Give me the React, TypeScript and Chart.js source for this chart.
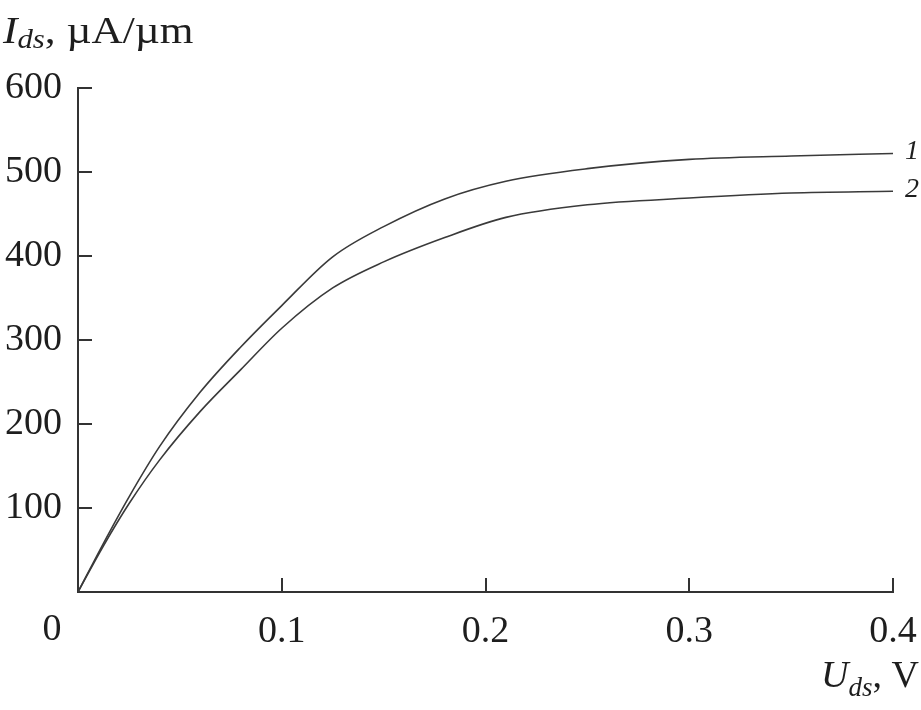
import React, { useEffect, useRef } from 'react';
import { Chart, registerables } from 'chart.js';

Chart.register(...registerables);

// Data
const voltages = [0, 0.0125, 0.025, 0.04, 0.06, 0.08, 0.1, 0.125, 0.15, 0.18, 0.21, 0.25, 0.3, 0.35, 0.4];
const current1 = [0, 58, 113, 173, 238, 292, 341, 399, 435, 468, 489, 504, 515, 519, 522];
const current2 = [0, 55, 105, 157, 215, 265, 314, 362, 393, 422, 446, 461, 469, 475, 477];
const seriesLabels = ['1', '2'];
const xTickValues = [0, 0.1, 0.2, 0.3, 0.4];
const yTickValues = [0, 100, 200, 300, 400, 500, 600];

const SERIF = '"Liberation Serif", "Times New Roman", serif';
const INK = '#1e1e1e';
const LINE = '#3a3a3a';

type Piece = { t: string; font: string; dy: number };

function drawRich(ctx: CanvasRenderingContext2D, pieces: Piece[], x: number, y: number, align: 'left' | 'right', sx = 1) {
  ctx.save();
  ctx.textAlign = 'left';
  ctx.textBaseline = 'alphabetic';
  let total = 0;
  for (const p of pieces) {
    ctx.font = p.font;
    total += ctx.measureText(p.t).width;
  }
  total *= sx;
  const start = align === 'left' ? x : x - total;
  ctx.translate(start, y);
  ctx.scale(sx, 1);
  let cx = 0;
  for (const p of pieces) {
    ctx.font = p.font;
    ctx.fillText(p.t, cx, p.dy);
    cx += ctx.measureText(p.t).width;
  }
  ctx.restore();
}

const decorPlugin = {
  id: 'decor',
  afterDraw(chart: any) {
    const ctx: CanvasRenderingContext2D = chart.ctx;
    const xs = chart.scales.x;
    const ys = chart.scales.y;
    const { left, bottom } = chart.chartArea;
    ctx.save();
    // inward tick marks
    ctx.strokeStyle = '#333';
    ctx.lineWidth = 2;
    ctx.beginPath();
    for (const v of yTickValues) {
      if (v === 0) continue;
      const py = Math.round(ys.getPixelForValue(v));
      ctx.moveTo(left, py);
      ctx.lineTo(left + 14, py);
    }
    for (const v of xTickValues) {
      if (v === 0) continue;
      const px = Math.round(xs.getPixelForValue(v));
      ctx.moveTo(px, bottom);
      ctx.lineTo(px, bottom - 14);
    }
    ctx.stroke();

    ctx.fillStyle = INK;
    // shared origin label
    ctx.font = `38px ${SERIF}`;
    ctx.textAlign = 'center';
    ctx.textBaseline = 'alphabetic';
    ctx.fillText('0', left - 26, bottom + 48);

    // curve labels
    ctx.font = `italic 28px ${SERIF}`;
    ctx.textAlign = 'left';
    ctx.textBaseline = 'middle';
    chart.data.datasets.forEach((_: any, i: number) => {
      const meta = chart.getDatasetMeta(i);
      const last = meta.data[meta.data.length - 1];
      ctx.fillText(seriesLabels[i], last.x + 12, last.y - 2);
    });

    // axis titles
    drawRich(ctx, [
      { t: 'I', font: `italic 38px ${SERIF}`, dy: 0 },
      { t: 'ds', font: `italic 27px ${SERIF}`, dy: 5 },
      { t: ', \u00B5A/\u00B5m', font: `38px ${SERIF}`, dy: 0 },
    ], 3, 43, 'left', 1.14);
    drawRich(ctx, [
      { t: 'U', font: `italic 38px ${SERIF}`, dy: 0 },
      { t: 'ds', font: `italic 27px ${SERIF}`, dy: 9 },
      { t: ', V', font: `38px ${SERIF}`, dy: 0 },
    ], 919, 687, 'right');
    ctx.restore();
  },
};

export default function App() {
  const ref = useRef<HTMLCanvasElement | null>(null);
  useEffect(() => {
    if (!ref.current) return;
    const mk = (vals: number[]) => voltages.map((x, i) => ({ x, y: vals[i] }));
    const chart = new Chart(ref.current, {
      type: 'line',
      data: {
        datasets: [
          { label: seriesLabels[0], data: mk(current1), borderColor: LINE, borderWidth: 1.6, pointRadius: 0, cubicInterpolationMode: 'monotone', fill: false },
          { label: seriesLabels[1], data: mk(current2), borderColor: LINE, borderWidth: 1.6, pointRadius: 0, cubicInterpolationMode: 'monotone', fill: false },
        ],
      },
      options: {
        responsive: false,
        animation: false,
        devicePixelRatio: 1,
        layout: { padding: { left: 0, right: 28, top: 88, bottom: 0 } },
        plugins: { legend: { display: false }, tooltip: { enabled: false } },
        scales: {
          x: {
            type: 'linear',
            min: 0,
            max: 0.4,
            afterFit: (s: any) => { s.height = 118; s.paddingLeft = 0; s.paddingRight = 0; },
            afterBuildTicks: (s: any) => { s.ticks = xTickValues.map((v) => ({ value: v })); },
            grid: { display: false, drawTicks: false },
            border: { display: true, color: '#333', width: 2 },
            ticks: {
              padding: 17,
              color: INK,
              font: { family: SERIF, size: 38 },
              maxRotation: 0,
              callback: (v: any) => (v === 0 ? '' : String(v)),
            },
          },
          y: {
            type: 'linear',
            min: 0,
            max: 600,
            afterFit: (s: any) => { s.width = 78; s.paddingTop = 0; s.paddingBottom = 0; },
            afterBuildTicks: (s: any) => { s.ticks = yTickValues.map((v) => ({ value: v })); },
            grid: { display: false, drawTicks: false },
            border: { display: true, color: '#333', width: 2 },
            ticks: {
              padding: 16,
              color: INK,
              font: { family: SERIF, size: 38 },
              callback: (v: any) => (v === 0 ? '' : String(v)),
            },
          },
        },
      },
      plugins: [decorPlugin],
    } as any);
    return () => chart.destroy();
  }, []);
  return (
    <div style={{ position: 'absolute', left: 0, top: 0, width: 921, height: 710, background: '#fff' }}>
      <canvas ref={ref} width={921} height={710} style={{ display: 'block' }} />
    </div>
  );
}
